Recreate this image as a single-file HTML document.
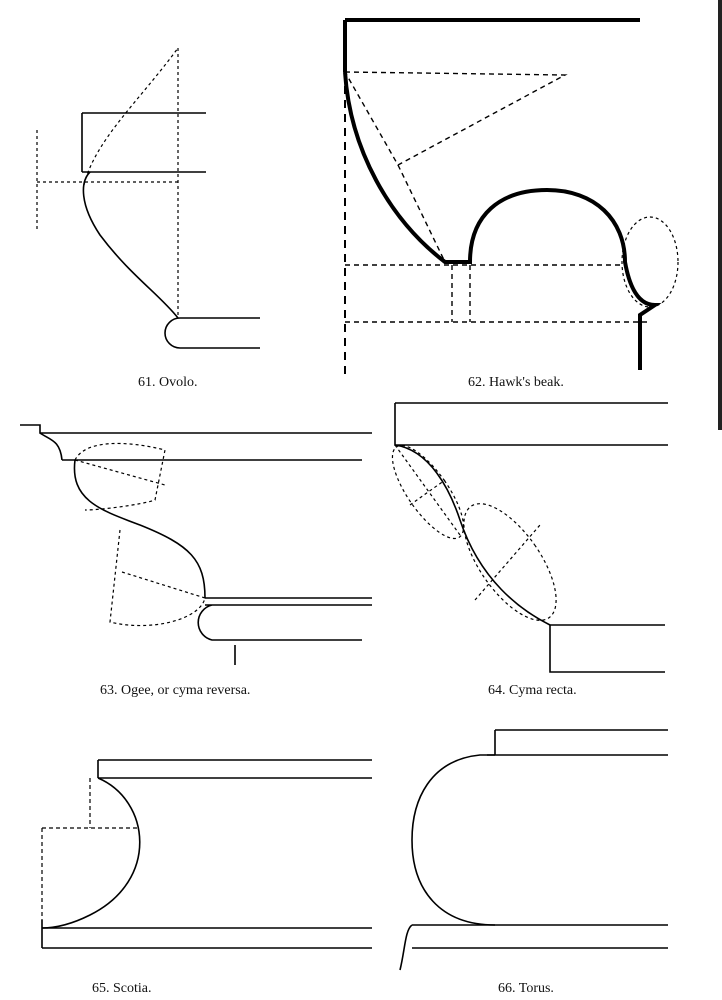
<!DOCTYPE html>
<html><head><meta charset="utf-8"><style>
html,body{margin:0;padding:0;background:#fff;}
svg{display:block}
text{font-family:"Liberation Serif",serif;font-size:14px;fill:#111}
</style></head><body>
<svg width="722" height="1000" viewBox="0 0 722 1000" xmlns="http://www.w3.org/2000/svg">
<rect x="718" y="0" width="4" height="430" fill="#222"/>
<g fill="none" stroke="#000" stroke-width="1.6">
<!-- Fig 61 -->
<path d="M82 113 H206 M82 113 V172 M82 172 H206"/>
<path d="M37 130 V232 M37 182 H178 M178 48 V318" stroke-dasharray="3,3" stroke-width="1.2"/>
<path d="M84 185 C95 140 140 100 178 48" stroke-dasharray="3,3" stroke-width="1.2"/>
<path d="M90 172 C80 182 80 205 100 235 C130 275 160 295 178 318"/>
<path d="M260 318 H180 A15 15 0 0 0 180 348 H260"/>
<!-- Fig 62 -->
<path d="M345 20 H640 M345 20 V72" stroke-width="4"/>
<path d="M345 72 V375" stroke-dasharray="8,6" stroke-width="2"/>
<path d="M345 72 C350 150 390 220 445 262 H470 C470 215 500 190 547 190 C595 190 625 220 625 262 C630 290 640 305 655 305 L640 315 V370" stroke-width="4"/>
<path d="M345 72 L565 75 L398 165 L345 72 M398 165 L445 262 M345 265 H625 M345 322 H650 M452 265 V322 M470 265 V322" stroke-dasharray="5,4" stroke-width="1.4"/>
<ellipse cx="650" cy="262" rx="28" ry="45" stroke-dasharray="3,3" stroke-width="1.2"/>
<!-- Fig 63 -->
<path d="M20 425 H40 V433 H372 M62 460 H362 M40 433 C50 440 60 440 62 460"/>
<path d="M75 460 C70 500 100 510 140 525 C190 545 205 560 205 598"/>
<path d="M205 598 H372 M205 605 H372 M212 605 A18 18 0 0 0 212 640 H362 M235 645 V665"/>
<g stroke-dasharray="3,3" stroke-width="1.2">
<path d="M75 460 C85 440 125 440 165 450 L155 500 C140 505 100 510 85 510"/>
<path d="M75 460 L165 485"/>
<path d="M120 530 L110 622 C150 632 200 620 205 598"/>
<path d="M122 572 L205 598"/>
</g>
<!-- Fig 64 -->
<path d="M395 403 H668 M395 403 V445 H668"/>
<path d="M395 445 C430 450 450 490 460 520 C480 580 520 610 550 625"/>
<path d="M550 625 H665 M550 625 V672 H665"/>
<g stroke-dasharray="3,3" stroke-width="1.2">
<ellipse cx="428" cy="492" rx="20" ry="55" transform="rotate(-35 428 492)"/>
<ellipse cx="510" cy="562" rx="30" ry="68" transform="rotate(-35 510 562)"/>
<path d="M395 445 L460 535 M410 505 L445 480 M475 600 L540 525"/>
</g>
<!-- Fig 65 -->
<path d="M98 760 H372 M98 760 V778 M98 778 H372"/>
<path d="M98 778 C150 800 160 880 90 915 C70 925 55 928 42 928"/>
<path d="M42 928 H372 M42 948 H372 M42 920 V948"/>
<path d="M42 828 H138 M42 828 V920 M90 778 V828" stroke-dasharray="4,3" stroke-width="1.2"/>
<!-- Fig 66 -->
<path d="M495 730 H668 M495 730 V755 M487 755 H668"/>
<path d="M495 755 H480 C430 760 412 800 412 840 C412 890 440 925 495 925"/>
<path d="M412 925 H668 M412 948 H668 M412 925 C405 930 405 950 400 970"/>
</g>
<text x="138" y="386">61. Ovolo.</text>
<text x="468" y="386">62. Hawk's beak.</text>
<text x="100" y="694">63. Ogee, or cyma reversa.</text>
<text x="488" y="694">64. Cyma recta.</text>
<text x="92" y="992">65. Scotia.</text>
<text x="498" y="992">66. Torus.</text>
</svg>
</body></html>
